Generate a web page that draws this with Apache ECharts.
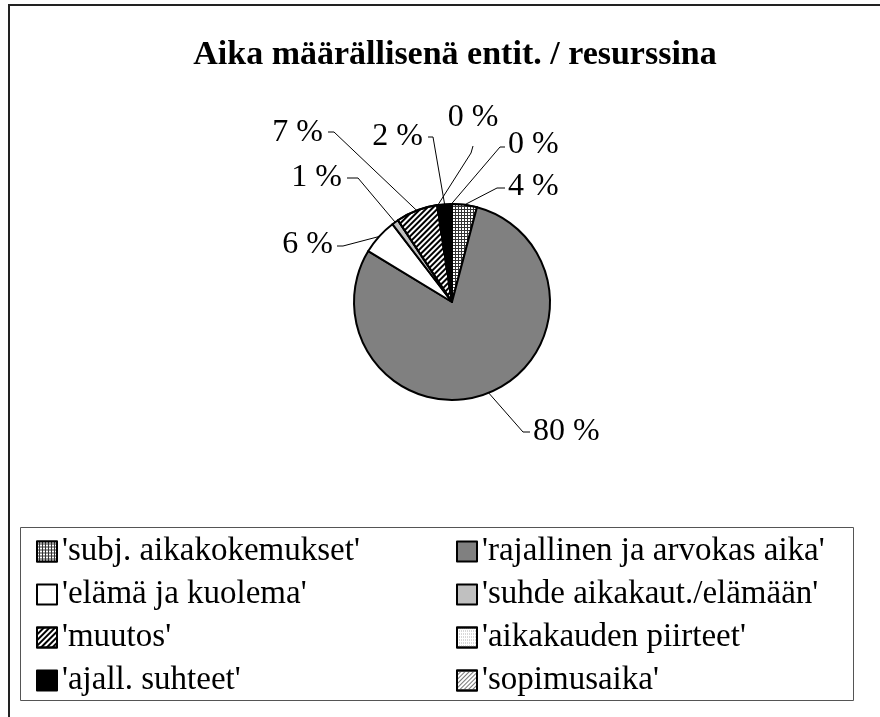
<!DOCTYPE html>
<html>
<head>
<meta charset="utf-8">
<script src="https://cdn.jsdelivr.net/npm/echarts@6/dist/echarts.min.js"></script>
<style>
  html, body { margin: 0; padding: 0; background: #fff; }
  #myChart { width: 880px; height: 717px; }
</style>
</head>
<body>
<div id="myChart"></div>
<script>
// aineisto
var categories = ["'subj. aikakokemukset'", "'rajallinen ja arvokas aika'", "'elämä ja kuolema'", "'suhde aikakaut./elämään'",
                  "'muutos'", "'aikakauden piirteet'", "'ajall. suhteet'", "'sopimusaika'"];
var values = [4.1, 79.6, 5.9, 1.1, 6.9, 0.2, 2.0, 0.2];

// tyylit
var fillColors = ['#ffffff', '#808080', '#ffffff', '#c0c0c0', '#ffffff', '#ffffff', '#000000', '#ffffff'];
var decals = [
  { symbol: 'rect', symbolSize: 1, dashArrayX: [2, 1], dashArrayY: [2, 1], color: '#ffffff', backgroundColor: '#333333' },
  null, null, null,
  { symbol: 'rect', symbolSize: 1, dashArrayX: [1, 0], dashArrayY: [1.6, 1.4], rotation: -Math.PI / 4, color: '#000000' },
  { symbol: 'rect', symbolSize: 1, dashArrayX: [1, 1], dashArrayY: [1, 2], color: '#b0b0b0' },
  null,
  { symbol: 'rect', symbolSize: 1, dashArrayX: [1, 0], dashArrayY: [1, 2], rotation: -Math.PI / 4, color: '#777777' }
];
// selitetekstien paikat: [x, y, tasaus, taitekohta x, y, loppu x, y]
var labelPos = [
  [508, 187, 'left', 497, 188, 505, 188],
  [533, 432, 'left', 523, 432, 530, 432],
  [333, 245, 'right', 343, 246, 337, 246],
  [342, 178, 'right', 358, 178, 347, 178],
  [323, 133, 'right', 334, 132, 328, 132],
  [473, 118, 'center', 471, 153, 473, 146],
  [423, 137, 'right', 433, 137, 428, 137],
  [508, 145, 'left', 500, 147, 505, 147]
];

var data = [];
for (var i = 0; i < categories.length; i++) {
  var st = { color: fillColors[i] };
  if (decals[i]) st.decal = decals[i];
  data.push({ name: categories[i], value: values[i], itemStyle: st });
}

var myChart = echarts.init(document.getElementById('myChart'));
var option = {
  animation: false,
  backgroundColor: '#ffffff',
  title: {
    text: 'Aika määrällisenä entit. / resurssina',
    left: 450,
    top: 33,
    textAlign: 'center',
    textStyle: { fontFamily: 'Liberation Serif', fontWeight: 'bold', fontSize: 34, color: '#000' }
  },
  graphic: [
    { type: 'rect', shape: { x: 9, y: 5, width: 900, height: 740 }, style: { fill: null, stroke: '#222', lineWidth: 2 } },
    { type: 'rect', shape: { x: 20.5, y: 527.5, width: 833, height: 173 }, style: { fill: null, stroke: '#555', lineWidth: 1 } }
  ],
  legend: {
    left: 36,
    top: 535,
    width: 840,
    padding: 0,
    itemGap: 10,
    itemWidth: 20,
    itemHeight: 20,
    icon: 'rect',
    selectedMode: false,
    textStyle: { fontFamily: 'Liberation Serif', fontSize: 33, color: '#000', width: 384, lineHeight: 30 },
    data: categories
  },
  series: [{
    type: 'pie',
    center: [452, 302],
    radius: 98,
    startAngle: 90,
    clockwise: true,
    avoidLabelOverlap: false,
    itemStyle: { borderColor: '#000', borderWidth: 2 },
    label: {
      show: true,
      fontFamily: 'Liberation Serif',
      fontSize: 32,
      color: '#000',
      formatter: function (p) { return Math.round(p.percent) + ' %'; }
    },
    labelLine: { show: true, length: 20, length2: 10, lineStyle: { color: '#000', width: 1 } },
    labelLayout: function (p) {
      var q = labelPos[p.dataIndex];
      var s = p.labelLinePoints ? p.labelLinePoints[0] : [q[3], q[4]];
      return {
        x: q[0], y: q[1], align: q[2], verticalAlign: 'middle',
        labelLinePoints: [s, [q[3], q[4]], [q[5], q[6]]]
      };
    },
    emphasis: { disabled: true },
    data: data
  }]
};
myChart.setOption(option);
</script>
</body>
</html>
